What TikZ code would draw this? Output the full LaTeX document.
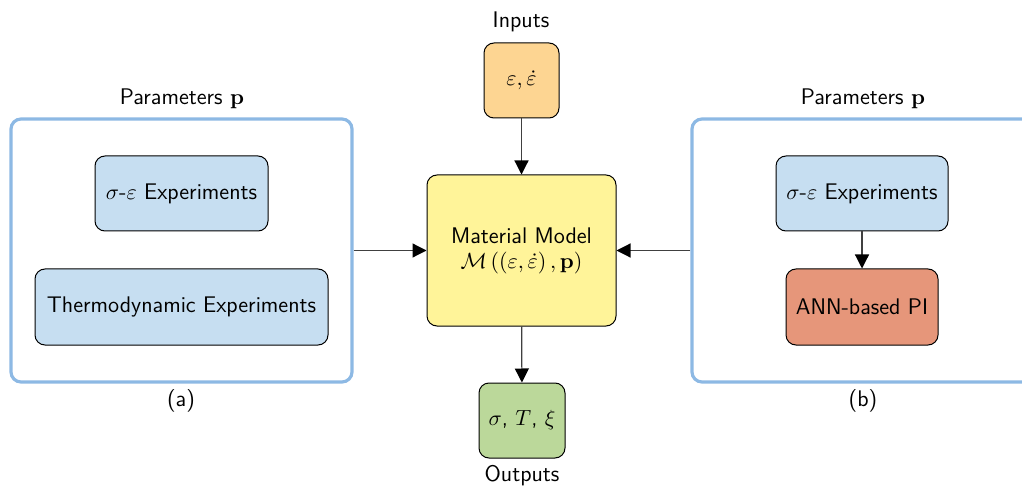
\documentclass[tikz,border=0pt]{standalone}
\usepackage{amsmath}
\usepackage{amssymb}
\usepackage{tikz}
\usetikzlibrary{arrows.meta}

\definecolor{inputcol}{RGB}{253,213,146}
\definecolor{modelcol}{RGB}{255,244,153}
\definecolor{outputcol}{RGB}{187,216,154}
\definecolor{expcol}{RGB}{198,222,241}
\definecolor{anncol}{RGB}{230,150,122}
\definecolor{groupcol}{RGB}{141,185,228}

\begin{document}
\begin{tikzpicture}[x=0.5pt,y=-0.5pt,font=\sffamily\fontsize{11.3}{12.5}\selectfont,
  box/.style={draw=black,line width=0.5pt,rounded corners=5pt,align=center,inner sep=0pt},
  group/.style={draw=groupcol,line width=1.6pt,rounded corners=5pt,inner sep=0pt},
  conn/.style={draw=black!75,line width=0.6pt,-{Triangle[length=7pt,width=7pt,color=black]}}]
  \useasboundingbox (0,0) rectangle (1022,486);

  % Parameter groups
  \node[group,minimum width=170.5pt,minimum height=131.5pt] (grpA) at (181.5,250.5) {};
  \node[group,minimum width=170.5pt,minimum height=131.5pt] (grpB) at (862.5,250.5) {};

  % Central chain
  \node[box,fill=inputcol,minimum width=37.5pt,minimum height=37.5pt] (inp) at (521.5,80.5) {$\varepsilon,\dot{\varepsilon}$};
  \node[box,fill=modelcol,minimum width=94.5pt,minimum height=75.5pt] (model) at (521.5,250.5)
    {Material Model\\$\mathcal{M}\left(\left(\varepsilon,\dot{\varepsilon}\right),\mathbf{p}\right)$};
  \node[box,fill=outputcol,minimum width=43pt,minimum height=37.5pt] (outp) at (522,420.5) {$\sigma$, $T$, $\xi$};

  % Boxes inside group (a)
  \node[box,fill=expcol,minimum width=86.5pt,minimum height=37.5pt] (expA) at (181.5,193.5) {$\sigma$-$\varepsilon$ Experiments};
  \node[box,fill=expcol,minimum width=146.5pt,minimum height=38pt] (thermo) at (181.5,307) {Thermodynamic Experiments};

  % Boxes inside group (b)
  \node[box,fill=expcol,minimum width=86pt,minimum height=37.5pt] (expB) at (862,193.5) {$\sigma$-$\varepsilon$ Experiments};
  \node[box,fill=anncol,minimum width=76pt,minimum height=38pt] (ann) at (862,307) {ANN-based PI};

  % Labels
  \node (inlab) at (521,22) {Inputs};
  \node (outlab) at (522,476) {Outputs};
  \node (parA) at (182,99) {Parameters $\mathbf{p}$};
  \node (parB) at (863,99) {Parameters $\mathbf{p}$};
  \node (capA) at (181,401) {(a)};
  \node (capB) at (863,401) {(b)};

  % Connectors
  \draw[conn] (inp) -- (model);
  \draw[conn] (model) -- (outp);
  \draw[conn] (grpA.east) -- (model.west);
  \draw[conn] (grpB.west) -- (model.east);
  \draw[conn] (expB) -- (ann);
\end{tikzpicture}
\end{document}
